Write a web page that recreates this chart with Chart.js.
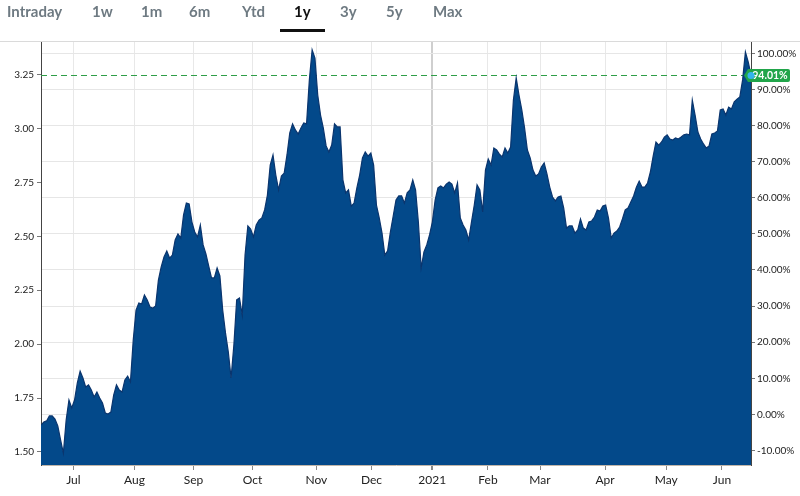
<!DOCTYPE html>
<html><head><meta charset="utf-8">
<script src="https://cdn.jsdelivr.net/npm/chart.js@4.4.1/dist/chart.umd.min.js"></script>
<style>
html,body{margin:0;padding:0;background:#fff;}
#wrap{position:relative;width:800px;height:496px;overflow:hidden;}
canvas{position:absolute;left:0;top:0;}
#tabs{position:absolute;left:0;top:0;width:800px;height:40px;font-family:Lato,sans-serif;font-weight:700;font-size:15px;}
.tab{position:absolute;top:1px;line-height:20px;color:#6e7a82;white-space:nowrap;}
.tab.active{color:#111;}
#uline{position:absolute;left:280px;top:29px;width:45px;height:3px;background:#111;}
</style></head>
<body>
<div id="wrap">
<canvas id="c" width="800" height="496"></canvas>
<div id="tabs"><div id="uline"></div></div>
</div>
<script>
// ---- data ----
const rangeTabs = ['Intraday','1w','1m','6m','Ytd','1y','3y','5y','Max'];
const activeTab = '1y';
const prices = [
1.625,1.639,1.644,1.667,1.667,1.653,1.621,1.556,1.495,1.648,
1.741,1.704,1.741,1.820,1.875,1.843,1.801,1.811,1.787,1.755,
1.778,1.750,1.727,1.681,1.676,1.685,1.764,1.811,1.787,1.778,
1.834,1.852,1.825,2.019,2.158,2.191,2.186,2.228,2.205,2.172,
2.167,2.177,2.297,2.358,2.404,2.432,2.399,2.413,2.483,2.511,
2.492,2.599,2.654,2.650,2.566,2.520,2.497,2.552,2.460,2.418,
2.362,2.307,2.307,2.353,2.316,2.158,2.052,1.964,1.843,1.996,
2.205,2.214,2.135,2.413,2.548,2.534,2.497,2.552,2.575,2.585,
2.622,2.691,2.830,2.877,2.784,2.715,2.779,2.793,2.877,2.979,
3.021,2.993,2.974,3.002,3.025,3.021,3.224,3.364,3.326,3.155,
3.062,3.002,2.919,2.891,2.923,3.021,3.007,3.007,2.761,2.701,
2.715,2.640,2.654,2.724,2.784,2.863,2.891,2.872,2.886,2.830,
2.645,2.585,2.515,2.413,2.432,2.520,2.594,2.668,2.687,2.687,
2.654,2.701,2.715,2.761,2.715,2.566,2.353,2.427,2.460,2.506,
2.566,2.668,2.724,2.733,2.724,2.742,2.752,2.742,2.701,2.747,
2.585,2.552,2.529,2.483,2.566,2.645,2.738,2.715,2.613,2.807,
2.858,2.830,2.909,2.900,2.881,2.868,2.909,2.886,2.914,3.132,
3.234,3.155,3.086,3.002,2.900,2.863,2.807,2.779,2.789,2.821,
2.840,2.789,2.728,2.682,2.664,2.682,2.687,2.631,2.538,2.548,
2.548,2.515,2.529,2.580,2.538,2.529,2.566,2.571,2.589,2.622,
2.617,2.640,2.645,2.585,2.492,2.515,2.524,2.543,2.580,2.622,
2.631,2.659,2.687,2.728,2.756,2.728,2.728,2.747,2.798,2.872,
2.937,2.923,2.937,2.960,2.970,2.951,2.946,2.956,2.951,2.960,
2.970,2.974,2.970,3.132,3.062,2.983,2.951,2.928,2.909,2.919,
2.974,2.979,2.988,3.086,3.090,3.062,3.099,3.090,3.123,3.136,
3.146,3.225,3.354,3.308,3.248
];
// month tick positions, in trading-day index units
const monthTickPos = [11.57,33.43,54.56,75.70,98.52,118.22,139.97,159.89,178.52,201.81,223.66,243.61];
const monthLabels = ['Jul','Aug','Sep','Oct','Nov','Dec','2021','Feb','Mar','Apr','May','Jun'];
const priceTicks = [1.50,1.75,2.00,2.25,2.50,2.75,3.00,3.25];
const pctTicks = [-10,0,10,20,30,40,50,60,70,80,90,100];
const changePct = 94.01;
const priceMin = 1.4397, priceMax = 3.4053;

// ---- layout / style ----
const tabLeft = [7,92,141,189,242,294,340,386,433];
const tabsEl = document.getElementById('tabs');
rangeTabs.forEach((t,i)=>{
  const d=document.createElement('div');
  d.className='tab'+(t===activeTab?' active':'');
  d.style.left=tabLeft[i]+'px';
  d.textContent=t;
  tabsEl.appendChild(d);
});

const lastVal = prices[prices.length-1];
const basePrice = lastVal/(1+changePct/100);
const pctMin = (priceMin/basePrice-1)*100;
const pctMax = (priceMax/basePrice-1)*100;

const FONT = 'Lato, "Open Sans", sans-serif';

const overlay = {
  id:'overlay',
  beforeDatasetsDraw(chart){
    const {ctx, chartArea:a} = chart;
    const y = chart.scales.y.getPixelForValue(lastVal);
    ctx.save();
    ctx.strokeStyle='#2e9e47';
    ctx.lineWidth=1;
    ctx.setLineDash([6,4]);
    ctx.beginPath();
    ctx.moveTo(a.left, Math.round(y)+0.5);
    ctx.lineTo(a.right, Math.round(y)+0.5);
    ctx.stroke();
    ctx.restore();
  },
  afterDraw(chart){
    const {ctx} = chart;
    ctx.save();
    // top border line
    ctx.strokeStyle='#dadada';
    ctx.lineWidth=1;
    ctx.beginPath();
    ctx.moveTo(0,41.5); ctx.lineTo(800,41.5); ctx.stroke();
    // last value tag
    const px = chart.scales.x.getPixelForValue(prices.length-1);
    const py = Math.round(chart.scales.y.getPixelForValue(lastVal))+0.5;
    ctx.fillStyle='#21a54a';
    ctx.beginPath();
    ctx.moveTo(px-7, py);
    ctx.lineTo(px-3, py-6.5);
    ctx.lineTo(px+37, py-6.5);
    ctx.quadraticCurveTo(px+39, py-6.5, px+39, py-4.5);
    ctx.lineTo(px+39, py+4.5);
    ctx.quadraticCurveTo(px+39, py+6.5, px+37, py+6.5);
    ctx.lineTo(px-3, py+6.5);
    ctx.closePath();
    ctx.fill();
    ctx.fillStyle='#fff';
    ctx.font='bold 10.5px '+FONT;
    ctx.textAlign='center';
    ctx.textBaseline='middle';
    ctx.fillText(changePct.toFixed(2)+'%', px+19, py+0.5);
    ctx.fillStyle='#34b4ee';
    ctx.beginPath();
    ctx.arc(px, py, 3.5, 0, Math.PI*2);
    ctx.fill();
    ctx.restore();
  }
};

new Chart(document.getElementById('c'), {
  type:'line',
  data:{
    datasets:[{
      data: prices.map((v,i)=>({x:i,y:v})),
      yAxisID:'y',
      borderColor:'#0a356e',
      borderWidth:1.2,
      backgroundColor:'#03498a',
      fill:'start',
      pointRadius:0,
      tension:0
    }]
  },
  options:{
    responsive:false,
    devicePixelRatio:1,
    animation:false,
    events:[],
    layout:{padding:{top:41,left:0,right:0,bottom:0}},
    plugins:{legend:{display:false},tooltip:{enabled:false}},
    scales:{
      x:{
        type:'linear',
        min:0, max:prices.length-1,
        afterBuildTicks(s){ s.ticks = monthTickPos.map(v=>({value:v})); },
        afterFit(s){ s.height = 31; },
        ticks:{
          autoSkip:false, maxRotation:0, padding:3,
          color:'#222', font:{family:FONT,size:12},
          callback:(v,i)=>monthLabels[i]
        },
        grid:{
          color:(c)=> monthLabels[c.index]==='2021' ? '#cfcfcf' : '#e8e8e8',
          lineWidth:(c)=> monthLabels[c.index]==='2021' ? 2 : 1,
          tickColor:'#888', tickLength:5, drawTicks:true
        },
        border:{color:'#c2b6a9',width:1}
      },
      y:{
        position:'left',
        min:priceMin, max:priceMax,
        afterBuildTicks(s){ s.ticks = priceTicks.map(v=>({value:v})); },
        afterFit(s){ s.width = 41; },
        ticks:{padding:3,color:'#222',font:{family:FONT,size:10},callback:v=>Number(v).toFixed(2)},
        grid:{drawOnChartArea:false,tickLength:4,tickColor:'#777'},
        border:{color:'#444',width:1}
      },
      y2:{
        position:'right',
        min:pctMin, max:pctMax,
        afterBuildTicks(s){ s.ticks = pctTicks.map(v=>({value:v})); },
        afterFit(s){ s.width = 49; },
        ticks:{padding:2,color:'#222',font:{family:FONT,size:10},callback:v=>Number(v).toFixed(2)+'%'},
        grid:{color:'#e6e6e6',tickLength:4,tickColor:'#777'},
        border:{color:'#444',width:1}
      }
    }
  },
  plugins:[overlay]
});
</script>
</body></html>
